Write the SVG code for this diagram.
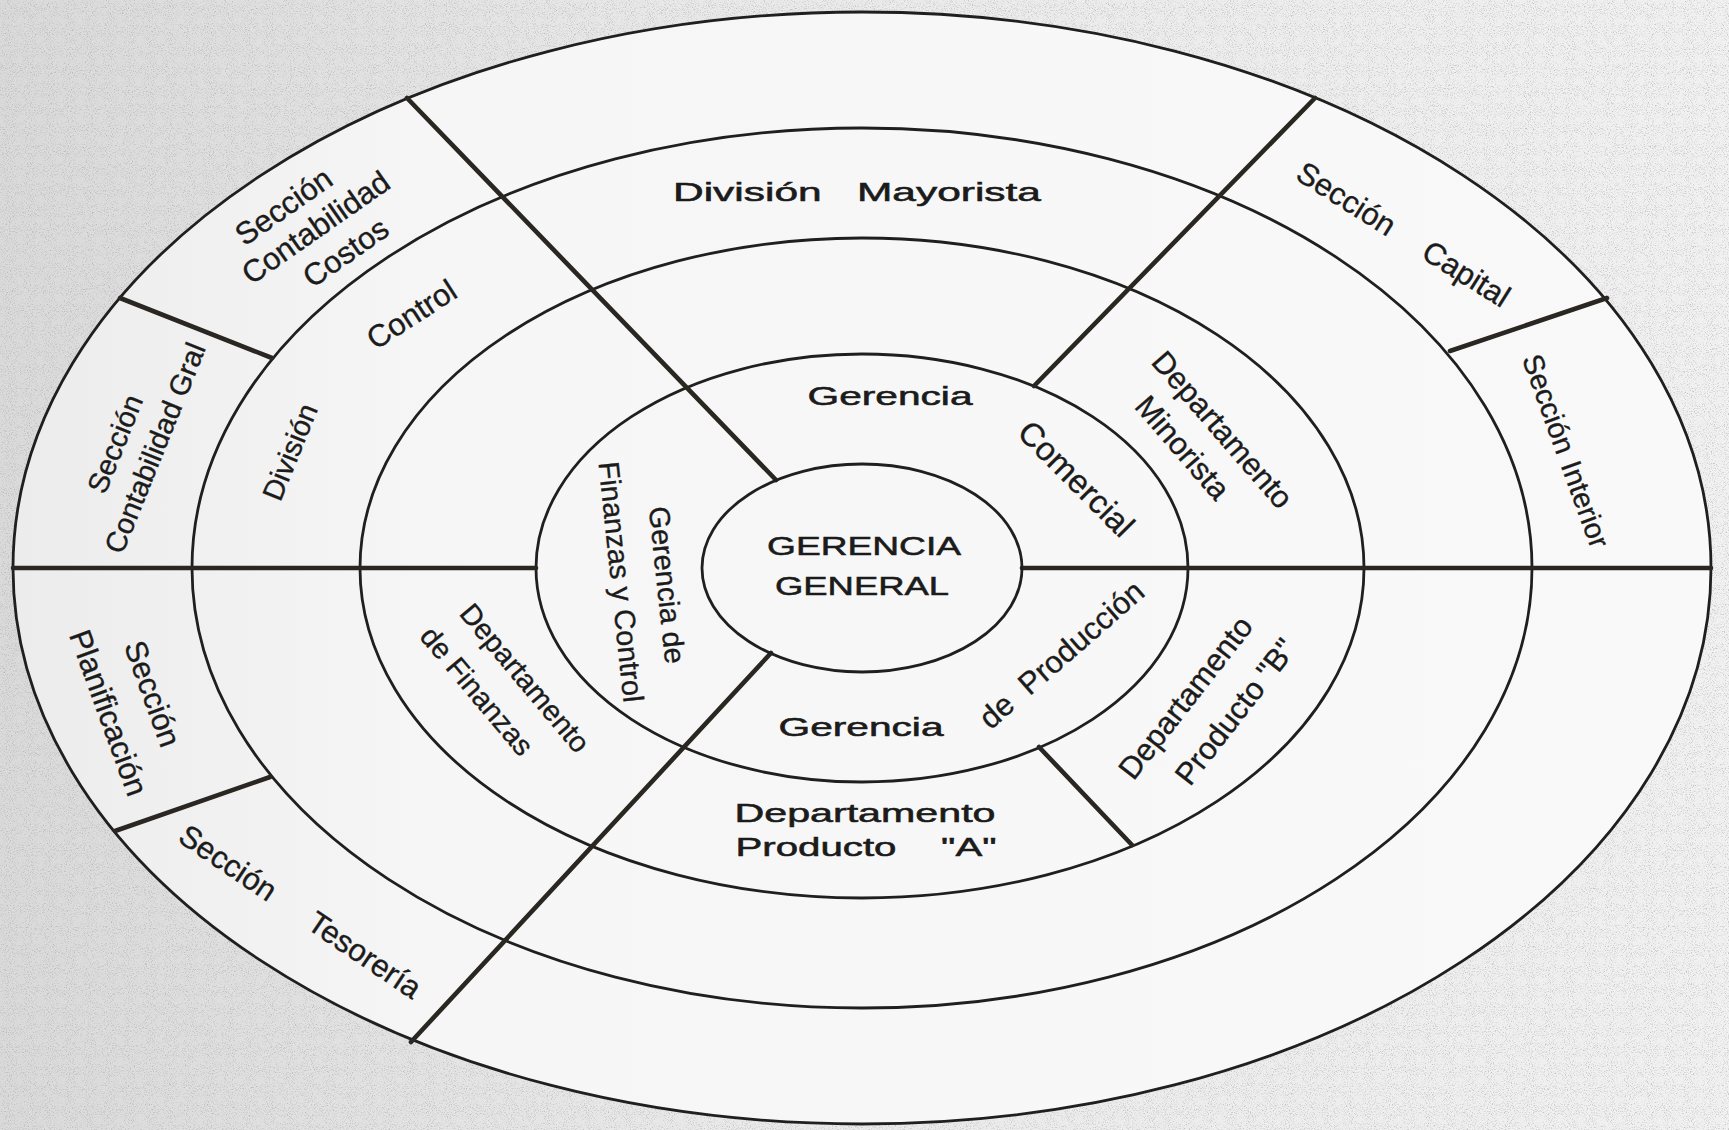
<svg xmlns="http://www.w3.org/2000/svg" width="1729" height="1130" viewBox="0 0 1729 1130">
  <style>
    .ring { fill: none; stroke: #1f1f1f; stroke-width: 2.8; }
    .divider { stroke: #2a2622; stroke-width: 4.6; stroke-linecap: round; fill: none; }
    .hz { font-family: "Liberation Sans", Arial, sans-serif; font-size: 26px; fill: #1b1b1b; text-anchor: middle; stroke: #1b1b1b; stroke-width: 0.55; }
    .rt { font-family: "Liberation Sans", Arial, sans-serif; font-size: 31px; fill: #1b1b1b; text-anchor: middle; stroke: #1b1b1b; stroke-width: 0.35; }
    .s29 { font-size: 29px; }
    .s33 { font-size: 33px; }
  </style>
  <defs>
    <linearGradient id="paper" x1="0" y1="0" x2="1" y2="0">
      <stop offset="0" stop-color="#dadada"/>
      <stop offset="0.4" stop-color="#e9e9e9"/>
      <stop offset="1" stop-color="#f1f1f1"/>
    </linearGradient>
    <linearGradient id="sheet" x1="0" y1="0" x2="1" y2="0">
      <stop offset="0" stop-color="#ececec"/>
      <stop offset="0.25" stop-color="#f6f6f6"/>
      <stop offset="1" stop-color="#f9f9f9"/>
    </linearGradient>
    <filter id="grain" x="0" y="0" width="100%" height="100%">
      <feTurbulence type="fractalNoise" baseFrequency="0.95" numOctaves="2" seed="7"/>
      <feColorMatrix type="matrix" values="0 0 0 0 0.35  0 0 0 0 0.35  0 0 0 0 0.35  3 0 0 0 -1.55"/>
    </filter>
    <mask id="outside">
      <rect width="1729" height="1130" fill="#fff"/>
      <ellipse cx="862" cy="568" rx="849" ry="556" fill="#000"/>
    </mask>
  </defs>

  <!-- paper -->
  <rect width="1729" height="1130" fill="url(#paper)"/>
  <rect width="1729" height="1130" filter="url(#grain)" opacity="0.6" mask="url(#outside)"/>
  <ellipse cx="862" cy="568" rx="849" ry="556" fill="url(#sheet)"/>

  <!-- concentric rings -->
  <g id="rings">
    <ellipse class="ring" cx="862" cy="568" rx="849" ry="556"/>
    <ellipse class="ring" cx="862" cy="568" rx="670" ry="440"/>
    <ellipse class="ring" cx="862" cy="568" rx="502" ry="330"/>
    <ellipse class="ring" cx="862" cy="568" rx="326" ry="214"/>
  </g>

  <!-- radial dividers between units -->
  <g id="connectors">
    <line class="divider" x1="13" y1="568" x2="536" y2="568"/>
    <line class="divider" x1="1022" y1="568" x2="1711" y2="568"/>
    <line class="divider" x1="407" y1="98" x2="776" y2="480"/>
    <line class="divider" x1="1315" y1="98" x2="1034" y2="386"/>
    <line class="divider" x1="771" y1="653" x2="411" y2="1042"/>
    <line class="divider" x1="1039" y1="747" x2="1132" y2="845"/>
    <line class="divider" x1="120" y1="298" x2="272" y2="358"/>
    <line class="divider" x1="1607" y1="298" x2="1450" y2="351"/>
    <line class="divider" x1="115" y1="831" x2="270" y2="777"/>
  </g>

  <!-- centre -->
  <g id="gerencia-general">
    <ellipse class="ring" cx="862" cy="568" rx="160" ry="104"/>
    <text class="hz" x="864" y="555" textLength="194" lengthAdjust="spacingAndGlyphs">GERENCIA</text>
    <text class="hz" x="862" y="595" textLength="174" lengthAdjust="spacingAndGlyphs">GENERAL</text>
  </g>

  <!-- second ring: gerencias -->
  <g id="gerencia-comercial">
    <text class="hz" x="890" y="405" textLength="165" lengthAdjust="spacingAndGlyphs">Gerencia</text>
    <text class="rt s33" transform="translate(1076,479) rotate(45)" y="11">Comercial</text>
  </g>
  <g id="gerencia-produccion">
    <text class="hz" x="861" y="736" textLength="165" lengthAdjust="spacingAndGlyphs">Gerencia</text>
    <text class="rt" transform="translate(1062,655) rotate(-41)" y="10" xml:space="preserve">de  Producción</text>
  </g>
  <g id="gerencia-finanzas-control">
    <text class="rt s29" transform="translate(667,585) rotate(84)" y="10">Gerencia de</text>
    <text class="rt s29" transform="translate(621,582) rotate(84)" y="10">Finanzas y Control</text>
  </g>

  <!-- third ring: departamentos -->
  <g id="departamento-minorista">
    <text class="rt" transform="translate(1222,430) rotate(49)" y="10">Departamento</text>
    <text class="rt" transform="translate(1182,448) rotate(49)" y="10">Minorista</text>
  </g>
  <g id="departamento-producto-b">
    <text class="rt" transform="translate(1186,698) rotate(-52)" y="10">Departamento</text>
    <text class="rt" transform="translate(1236,712) rotate(-52)" y="10">Producto "B"</text>
  </g>
  <g id="departamento-producto-a">
    <text class="hz" x="865" y="822" textLength="261" lengthAdjust="spacingAndGlyphs">Departamento</text>
    <text class="hz" x="866" y="856" textLength="261" lengthAdjust="spacingAndGlyphs" xml:space="preserve">Producto    "A"</text>
  </g>
  <g id="departamento-finanzas">
    <text class="rt s29" transform="translate(525,678) rotate(50)" y="10">Departamento</text>
    <text class="rt s29" transform="translate(477,691) rotate(50)" y="10">de Finanzas</text>
  </g>

  <!-- fourth ring: divisiones -->
  <g id="division-mayorista">
    <text class="hz" x="857" y="201" textLength="368" lengthAdjust="spacingAndGlyphs" xml:space="preserve">División   Mayorista</text>
  </g>
  <g id="division-control">
    <text class="rt s29" transform="translate(290,452) rotate(-68)" y="10">División</text>
    <text class="rt" transform="translate(412,315) rotate(-33)" y="10">Control</text>
  </g>

  <!-- outer ring: secciones -->
  <g id="seccion-capital">
    <text class="rt" transform="translate(1403,235) rotate(32)" y="10">Sección<tspan dx="38">Capital</tspan></text>
  </g>
  <g id="seccion-interior">
    <text class="rt s29" transform="translate(1566,451) rotate(70)" y="10">Sección<tspan dx="10">Interior</tspan></text>
  </g>
  <g id="seccion-contabilidad-costos">
    <text class="rt" transform="translate(284,207) rotate(-35)" y="10">Sección</text>
    <text class="rt" transform="translate(316,228) rotate(-35)" y="10">Contabilidad</text>
    <text class="rt" transform="translate(346,253) rotate(-35)" y="10">Costos</text>
  </g>
  <g id="seccion-contabilidad-gral">
    <text class="rt s29" transform="translate(115,444) rotate(-68)" y="10">Sección</text>
    <text class="rt s29" transform="translate(155,448) rotate(-68)" y="10">Contabilidad Gral</text>
  </g>
  <g id="seccion-planificacion">
    <text class="rt" transform="translate(152,694) rotate(70)" y="10">Sección</text>
    <text class="rt" transform="translate(108,713) rotate(70)" y="10">Planificación</text>
  </g>
  <g id="seccion-tesoreria">
    <text class="rt" transform="translate(300,912) rotate(34)" y="10">Sección<tspan dx="45">Tesorería</tspan></text>
  </g>
</svg>
